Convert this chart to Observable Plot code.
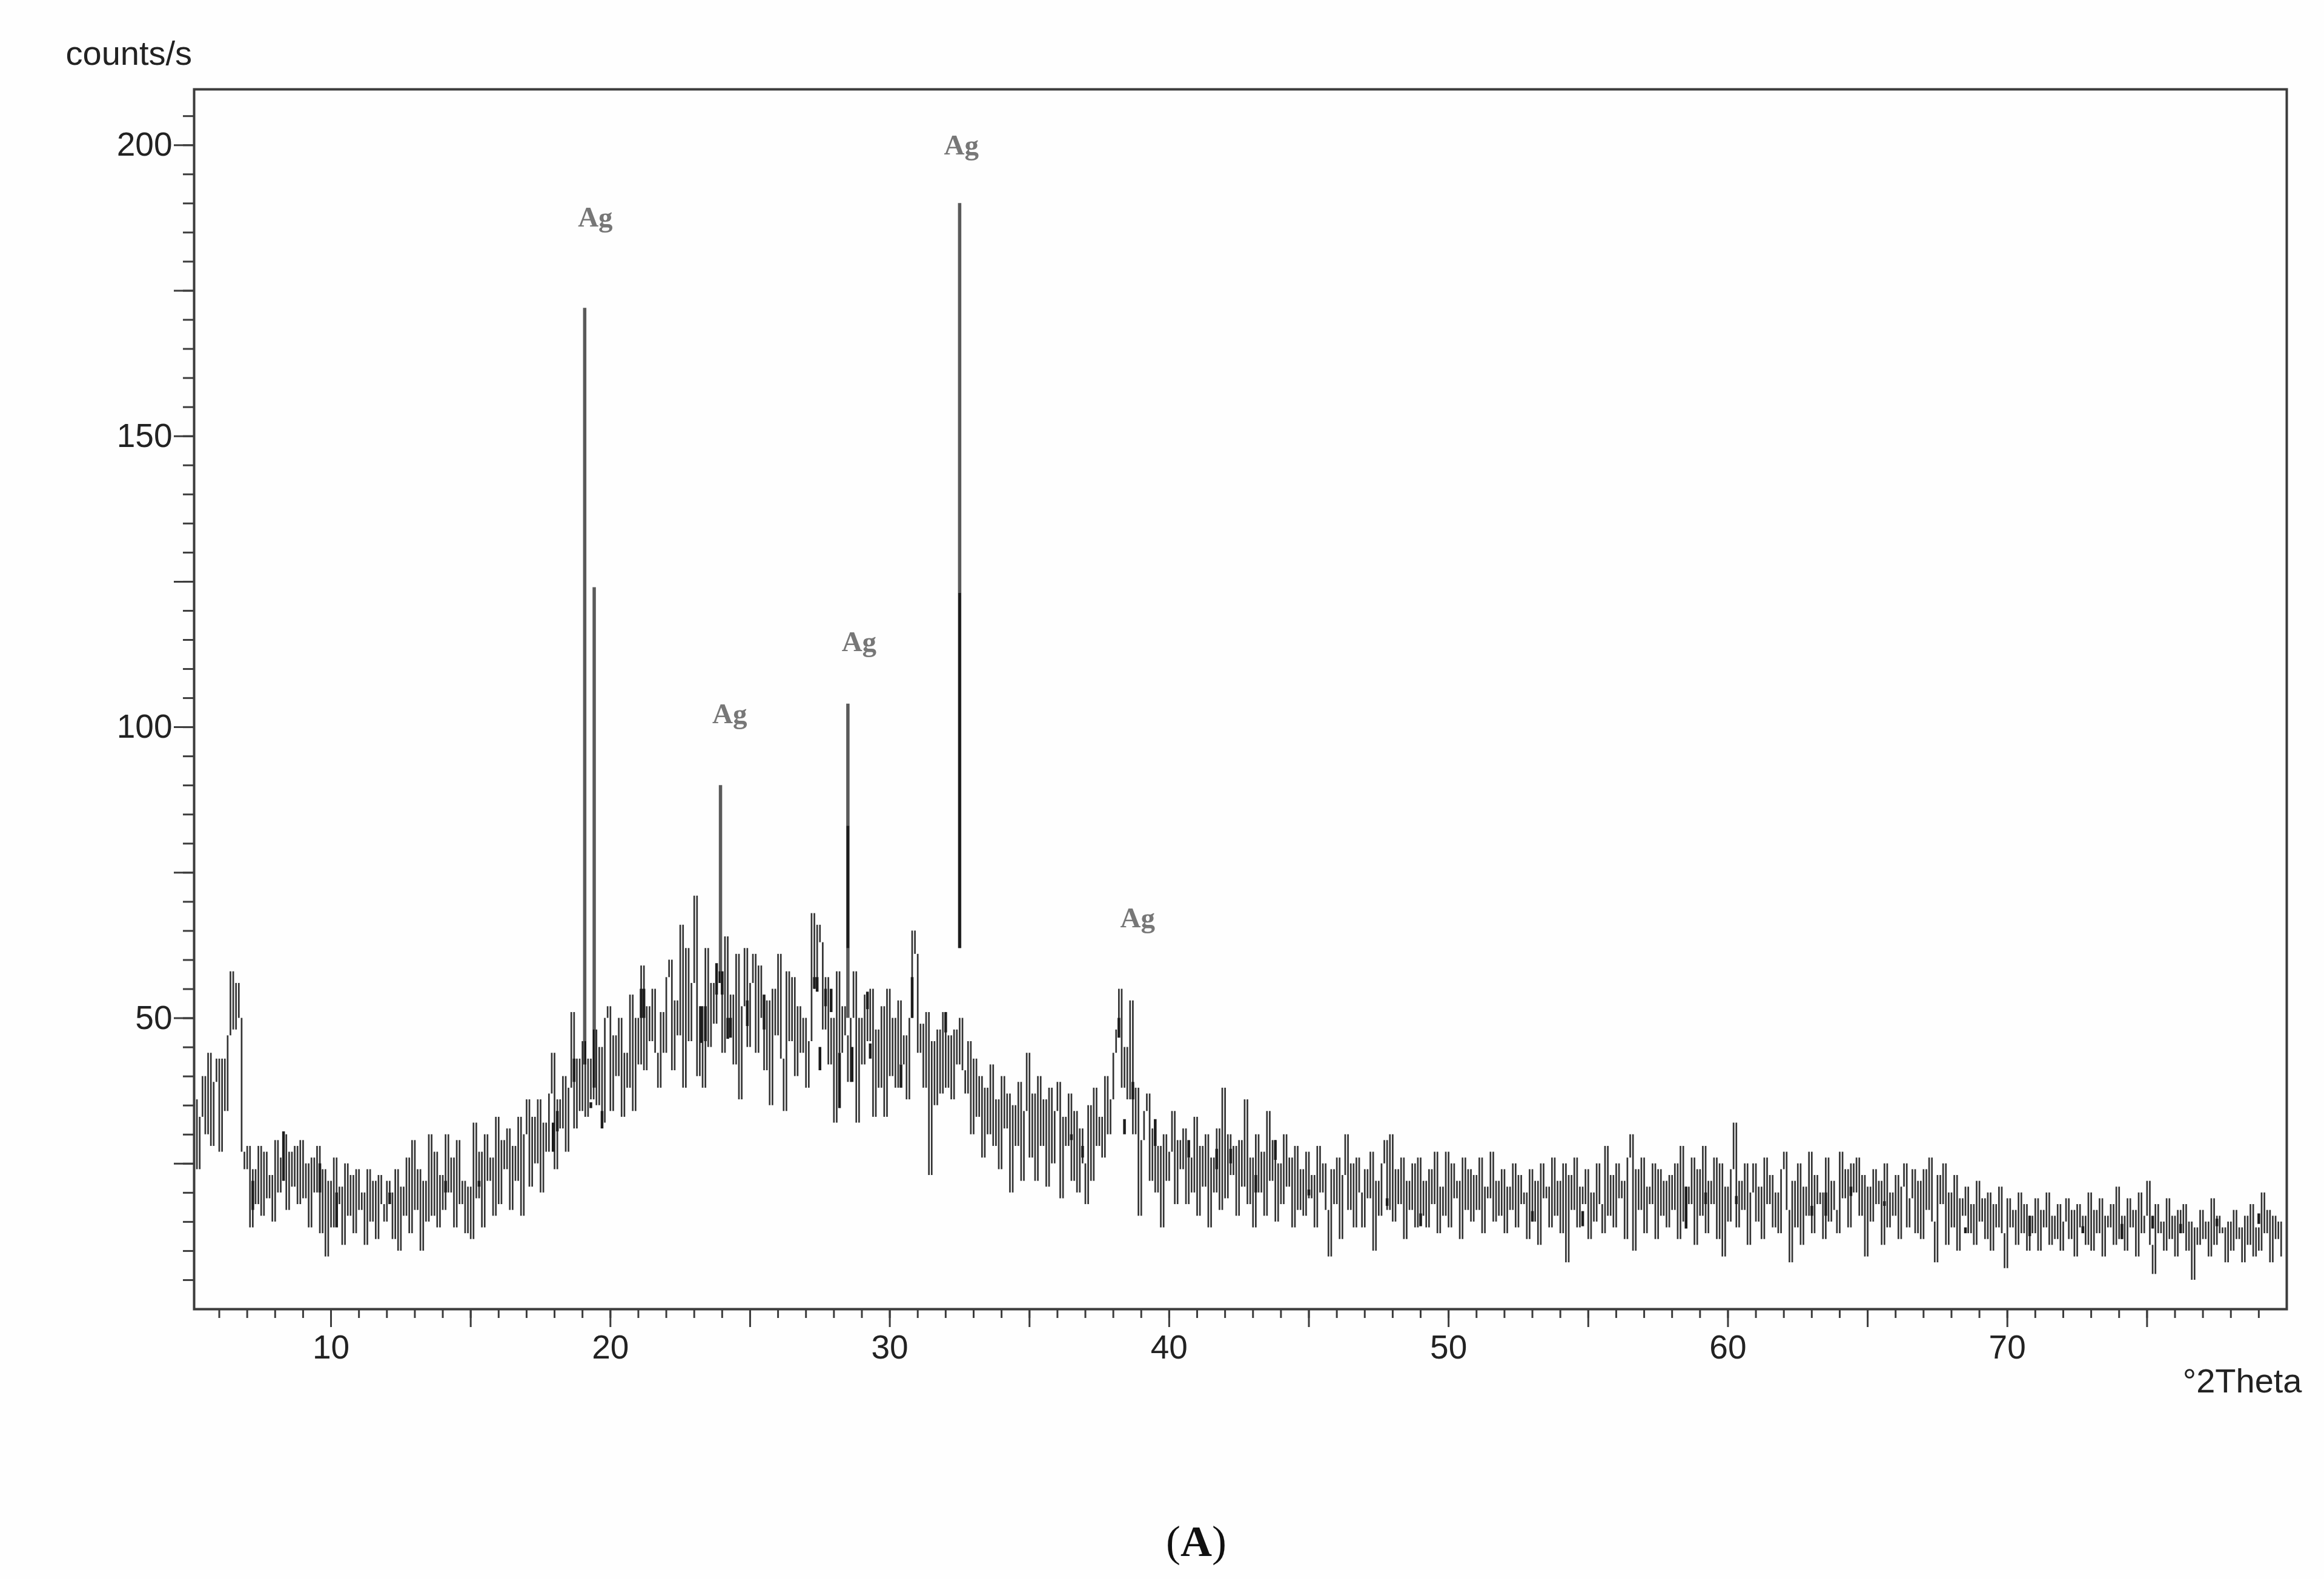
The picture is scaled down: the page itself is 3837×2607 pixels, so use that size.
<!DOCTYPE html>
<html>
<head>
<meta charset="utf-8">
<script src="https://cdn.jsdelivr.net/npm/d3@7"></script>
<script src="https://cdn.jsdelivr.net/npm/@observablehq/plot@0.6"></script>
<style>
html,body{margin:0;padding:0;background:#fefefe;overflow:hidden}
svg{display:block}
#caption{font-family:"Liberation Serif",serif;font-size:72px;color:#111;text-align:center;padding-left:113px;line-height:80px;margin-top:25px}
#caption b{font-weight:bold}
</style>
</head>
<body>
<div id="chart"></div>
<div id="caption">(<b>A</b>)</div>
<script>
// counts/s, ten readings per degree, grouped by 5 degrees
const counts05 = [
 28,26,36,24,33,40,30,44,28,39,
 43,27,43,34,47,58,48,56,50,27,
 24,28,14,24,18,28,16,27,19,23,
 15,29,20,26,30,17,27,21,28,18,
 29,19,25,14,26,20,28,13,24,9];
const counts10 = [
 22,14,26,18,21,11,25,16,23,13,
 24,17,20,11,24,15,22,12,23,18,
 15,22,20,12,24,10,21,16,26,13,
 29,17,24,10,22,15,30,16,27,14,
 23,17,30,20,26,14,29,18,22,13];
const counts15 = [
 21,12,32,19,27,14,30,22,26,16,
 33,18,29,24,31,17,28,22,33,16,
 30,36,21,33,25,36,20,32,27,37,
 44,24,36,31,40,27,38,51,31,43,
 34,46,33,43,36,48,35,45,32,50];
const counts20 = [
 52,34,47,40,50,33,44,38,54,34,
 50,42,59,41,52,46,55,44,38,51,
 44,57,60,41,53,47,66,38,62,46,
 56,71,40,52,38,62,45,56,49,58,
 56,44,64,47,54,42,61,36,52,62];
const counts25 = [
 45,56,61,44,59,50,41,53,35,55,
 47,61,43,34,58,46,57,40,52,44,
 50,38,46,68,55,66,63,48,57,42,
 50,32,58,44,52,47,39,50,58,32,
 50,42,54,46,55,33,48,38,52,33];
const counts30 = [
 55,40,50,38,53,42,47,36,50,65,
 61,44,49,38,51,23,46,35,48,37,
 51,38,47,36,48,42,50,41,37,46,
 30,43,33,40,26,38,30,42,28,36,
 24,40,31,37,20,35,28,39,22,34];
const counts35 = [
 44,26,37,22,40,28,36,21,38,25,
 34,39,19,33,28,37,22,34,20,31,
 25,18,35,22,38,28,33,26,40,30,
 36,44,48,55,38,45,36,53,30,38,
 16,29,34,37,22,31,20,28,14,30];
const counts40 = [
 22,27,34,18,29,24,31,18,26,20,
 33,16,28,21,30,14,26,20,31,17,
 38,19,30,23,28,16,29,21,36,18,
 26,14,30,20,27,16,34,22,29,15,
 25,18,30,21,26,14,28,17,24,16];
const counts45 = [
 27,19,23,14,28,20,25,17,9,24,
 18,26,12,23,30,17,25,14,26,20,
 14,24,19,27,10,22,16,25,29,17,
 30,15,24,18,26,12,22,17,25,14,
 26,16,22,14,24,18,27,13,21,16];
const counts50 = [
 27,14,25,19,22,12,26,17,24,15,
 23,17,26,13,21,19,27,15,22,16,
 24,13,21,17,25,14,23,18,20,12,
 24,15,22,11,25,19,21,14,26,16,
 22,13,25,8,23,17,26,14,21,18];
const counts55 = [
 24,12,20,15,25,18,13,28,16,23,
 14,25,19,22,12,26,30,10,24,17,
 26,13,21,18,25,12,24,16,22,14,
 23,17,25,12,28,15,21,18,26,11,
 24,16,28,13,22,18,26,12,25,9];
const counts60 = [
 21,15,24,32,14,22,17,25,11,20,
 25,15,21,12,26,18,23,14,20,13,
 24,27,17,8,22,14,25,11,21,16,
 27,13,23,18,20,12,26,15,22,17,
 13,27,19,24,14,25,20,26,16,23];
const counts65 = [
 9,21,15,24,18,22,11,25,14,20,
 16,23,12,21,25,14,19,24,13,22,
 12,24,17,26,15,8,23,18,25,11,
 20,14,23,10,19,16,21,13,18,11,
 22,15,19,12,20,10,18,14,21,13];
const counts70 = [
 7,19,14,17,11,20,13,18,10,16,
 13,19,10,17,14,20,11,16,12,18,
 10,15,19,12,17,9,18,14,16,11,
 20,10,17,13,19,9,16,14,18,11,
 21,12,16,10,19,14,17,9,20,13];
const counts75 = [
 16,22,11,6,18,13,15,10,19,12,
 16,9,17,13,18,10,15,5,14,11,
 17,12,15,9,19,11,16,13,14,8,
 15,10,17,12,14,8,16,11,18,9,
 14,10,20,13,17,8,16,12,15,9];

const groupStart = [5,10,15,20,25,30,35,40,45,50,55,60,65,70,75];
const readingsPerDegree = 10;
const groups = [counts05,counts10,counts15,counts20,counts25,counts30,counts35,counts40,
                counts45,counts50,counts55,counts60,counts65,counts70,counts75];
const readings = groups.flatMap((g, k) => g.map((c, i) => ({angle: groupStart[k] + i / readingsPerDegree, c})));
const sticks = readings.slice(0, -1).map((d, i) => ({angle: d.angle, from: d.c, to: readings[i + 1].c}))
  .filter(d => d.angle >= 5.15);

// sharp reflections, read individually
const peakAngle = [19.08, 19.42, 23.94, 28.5, 32.5];
const peakTop   = [172,   124,   90,    104,  190];
const peakBase  = [42,    38,    56,    50,   62];
const peaks = peakAngle.map((a, i) => ({a, t: peakTop[i], b: peakBase[i]}));

// darker, overprinted stretches of the trace
const darkAngle = [7.2,8.3,9.6,10.2,12.1,14.1,15.3,17.95,18.1,18.7,19.3,19.7,21.1,21.2,23.25,23.4,23.8,24.0,24.2,24.3,24.9,25.5,27.3,27.4,27.5,27.7,27.9,28.2,28.5,28.65,29.2,29.3,30.4,30.8,32.0,32.5,36.5,36.9,38.2,38.4,38.7,39.5,40.7,41.7,42.2,43.1,43.8,45,47.8,49,53,54.8,58.5,59.2,60.3,63,63.5,64.4,65.6,68.5,70.8,72.7,74.1,75.2,76.2,77.5,79];
const darkHigh  = [22,30.5,25,20,20,22,22,32,34,43,35.5,34,55,55,52,52,59.4,58,50,50,53,54,57,57,45,55,55,44,83,45,54.5,45.6,42,57,51,123,30,28,50,32.6,39,32.6,29,27.5,27.5,23,29,20.5,19,16.4,16.8,16.8,21,20,19.4,17.7,20,21,18.5,14,16,14.2,14.6,16,14.6,15.5,16.4];
const darkLow   = [17,22,20,14,18,20,21,27,30.5,39,34.5,31,50,50,45.7,46,54,54,46.4,46.6,48.6,48,55,54.5,41,52,51,34.5,62,39,51.5,43,38,50,47.5,62,29,26,46.6,30,36,28,26,24,25,20,25.6,19.5,17.7,14.2,15,14.2,13.8,18,18,16,16,19.4,17.7,13,12.5,13,12,13.8,13,14.2,14.6];
const dark = darkAngle.map((a, i) => ({a, t: darkHigh[i], b: darkLow[i]}));

// peak annotations
const agAngle = [19.46, 24.27, 28.9, 32.56, 38.87];
const agCount = [187.6, 102.3, 114.6, 200, 67.2];
const ag = agAngle.map((a, i) => ({a, c: agCount[i], t: "Ag"}));

const xMinor = d3.range(6, 80);
const xMajor = [10,15,20,25,30,35,40,45,50,55,60,65,70,75];
const xLabelled = [10,20,30,40,50,60,70];
const yMinor = d3.range(5, 206, 5);
const yMajor = [25,50,75,100,125,150,175,200];
const yLabelled = [50,100,150,200];
const ink = "#3c3c3c";
const sans = "'Liberation Sans', Arial, sans-serif";
const serif = "'Liberation Serif', serif";

const chart = Plot.plot({
  width: 3837, height: 2480,
  marginLeft: 320, marginRight: 62, marginTop: 147, marginBottom: 319,
  style: {background: "transparent", fontFamily: sans},
  x: {domain: [5.1, 80], label: null},
  y: {domain: [0, 209.6], label: null},
  marks: [
    Plot.ruleX(sticks, {x: "angle", y1: "from", y2: "to", stroke: "#333", strokeWidth: 2.7, mixBlendMode: "multiply"}),
    Plot.ruleX(peaks, {x: "a", y1: "b", y2: "t", stroke: "#5a5a5a", strokeWidth: 5.5, mixBlendMode: "multiply"}),
    Plot.ruleX(dark, {x: "a", y1: "b", y2: "t", stroke: "#1c1c1c", strokeWidth: 4.5}),
    Plot.text(ag, {x: "a", y: "c", text: "t", fontSize: 47, fontWeight: "bold", fontFamily: serif, fill: "#777"}),
    Plot.frame({stroke: ink, strokeWidth: 4}),
    Plot.axisX({ticks: xMinor, tickSize: 15, tickFormat: () => "", stroke: ink, strokeWidth: 3, label: null}),
    Plot.axisX({ticks: xMajor, tickSize: 30, tickPadding: 12, tickFormat: d => xLabelled.includes(d) ? String(d) : "",
      stroke: ink, strokeWidth: 3, fontSize: 55, fill: "#222", label: null}),
    Plot.axisY({ticks: yMinor, tickSize: 18, tickFormat: () => "", stroke: ink, strokeWidth: 3, label: null}),
    Plot.axisY({ticks: yMajor, tickSize: 33, tickPadding: 3, tickFormat: d => yLabelled.includes(d) ? String(d) : "",
      stroke: ink, strokeWidth: 3, fontSize: 55, fill: "#222", label: null}),
    Plot.text(["counts/s"], {frameAnchor: "top-left", dx: -212, dy: -147 + 88 - 21, text: d => d, fontSize: 56, textAnchor: "start", fill: "#222"}),
    Plot.text(["°2Theta"], {frameAnchor: "bottom-right", dx: 25, dy: 137, text: d => d, fontSize: 56, textAnchor: "end", fill: "#222"})
  ]
});
document.getElementById("chart").append(chart);
</script>
</body>
</html>
